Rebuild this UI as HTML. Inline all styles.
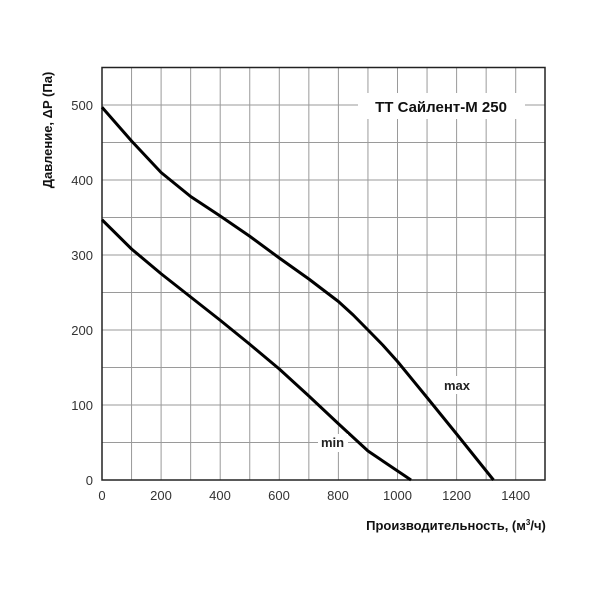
<!DOCTYPE html>
<html><head><meta charset="utf-8"><style>body{margin:0;background:#fff}</style></head><body>
<svg width="600" height="600" xmlns="http://www.w3.org/2000/svg" font-family="Liberation Sans, sans-serif">
<rect width="600" height="600" fill="#fff"/>
<g stroke="#9a9a9a" stroke-width="1">
<line x1="131.55" y1="67.5" x2="131.55" y2="480"/><line x1="161.1" y1="67.5" x2="161.1" y2="480"/><line x1="190.65" y1="67.5" x2="190.65" y2="480"/><line x1="220.2" y1="67.5" x2="220.2" y2="480"/><line x1="249.75" y1="67.5" x2="249.75" y2="480"/><line x1="279.3" y1="67.5" x2="279.3" y2="480"/><line x1="308.85" y1="67.5" x2="308.85" y2="480"/><line x1="338.4" y1="67.5" x2="338.4" y2="480"/><line x1="367.95" y1="67.5" x2="367.95" y2="480"/><line x1="397.5" y1="67.5" x2="397.5" y2="480"/><line x1="427.05" y1="67.5" x2="427.05" y2="480"/><line x1="456.6" y1="67.5" x2="456.6" y2="480"/><line x1="486.15" y1="67.5" x2="486.15" y2="480"/><line x1="515.7" y1="67.5" x2="515.7" y2="480"/>
<line x1="102" y1="105" x2="545" y2="105"/><line x1="102" y1="142.5" x2="545" y2="142.5"/><line x1="102" y1="180" x2="545" y2="180"/><line x1="102" y1="217.5" x2="545" y2="217.5"/><line x1="102" y1="255" x2="545" y2="255"/><line x1="102" y1="292.5" x2="545" y2="292.5"/><line x1="102" y1="330" x2="545" y2="330"/><line x1="102" y1="367.5" x2="545" y2="367.5"/><line x1="102" y1="405" x2="545" y2="405"/><line x1="102" y1="442.5" x2="545" y2="442.5"/>
</g>
<rect x="102" y="67.5" width="443" height="412.5" fill="none" stroke="#222" stroke-width="1.5"/>
<rect x="358" y="93" width="167" height="26" fill="#fff"/>
<text x="441" y="112" font-size="15" font-weight="bold" text-anchor="middle" fill="#111">TT Сайлент-М 250</text>
<polyline points="102,107.25 131.55,141 161.1,172.5 190.65,196.5 220.2,216 249.75,236.25 279.3,258 308.85,279 338.4,301.5 353.2,315 368,330 382.7,345 397.5,361.5 427,397.5 456.6,434 493.5,480" fill="none" stroke="#000" stroke-width="3" stroke-linejoin="round"/>
<polyline points="102,219.75 131.55,249 161.1,273.75 190.65,297 220.2,320.25 249.75,344.25 279.3,369 308.85,396 338.4,423.75 368,451 411,480" fill="none" stroke="#000" stroke-width="3" stroke-linejoin="round"/>
<rect x="430" y="376" width="44" height="18" fill="#fff"/>
<text x="444" y="390" font-size="13" font-weight="bold" fill="#222">max</text>
<rect x="318" y="434" width="30" height="18" fill="#fff"/>
<text x="321" y="447" font-size="13" font-weight="bold" fill="#222">min</text>
<g font-size="13" fill="#333" text-anchor="end">
<text x="93" y="485">0</text><text x="93" y="410">100</text><text x="93" y="335">200</text><text x="93" y="260">300</text><text x="93" y="185">400</text><text x="93" y="110">500</text>
</g>
<g font-size="13" fill="#333" text-anchor="middle">
<text x="102" y="500">0</text><text x="161" y="500">200</text><text x="220" y="500">400</text><text x="279" y="500">600</text><text x="338" y="500">800</text><text x="397.5" y="500">1000</text><text x="456.6" y="500">1200</text><text x="515.7" y="500">1400</text>
</g>
<text x="456" y="530" font-size="13" font-weight="bold" fill="#111" text-anchor="middle">Производительность, (м<tspan font-size="8" dy="-5">3</tspan><tspan dy="5">/ч)</tspan></text>
<text transform="translate(52,130) rotate(-90)" font-size="13" font-weight="bold" fill="#111" text-anchor="middle">Давление, ΔP (Па)</text>
</svg>
</body></html>
